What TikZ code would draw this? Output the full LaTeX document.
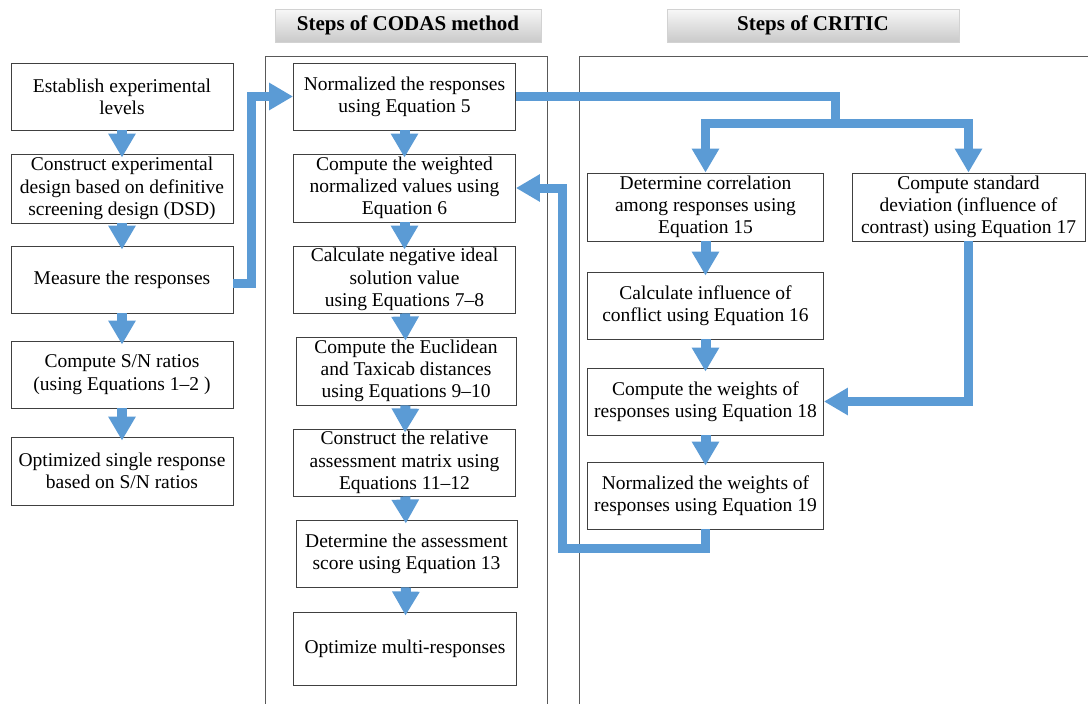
\documentclass[tikz,border=0pt]{standalone}
\usepackage{fontspec}
\setmainfont{Liberation Serif}
\usetikzlibrary{arrows.meta}
\definecolor{flowblue}{RGB}{91,155,213}
\begin{document}
\begin{tikzpicture}[x=1pt,y=-1pt,
  box/.style={draw=black!75,line width=0.9pt,align=center,inner sep=0pt,
    font=\fontsize{19.5}{22.3}\selectfont},
  flow/.style={draw=flowblue,line width=9pt,line join=miter,
    -{Triangle[width=26pt,length=24pt]}},
  down/.style={flow,line width=10pt,shorten >=-4pt},
  frame/.style={draw=black!65,line width=0.9pt},
  titlebox/.style={draw=gray!35,line width=0.6pt,top color=gray!6,bottom color=gray!42,
    inner sep=0pt,font=\fontsize{21}{24}\selectfont\bfseries}]
\clip (0,0) rectangle (1088,704);
\fill[white] (0,0) rectangle (1088,704);
% frames
\draw[frame] (265,56) rectangle (547,712);
\draw[frame] (579,56) rectangle (1096,712);
% titles
\node[titlebox,minimum width=266pt,minimum height=33pt] (t1) at (408,25.5) {Steps of CODAS method};
\node[titlebox,minimum width=292pt,minimum height=33pt] (t2) at (813,25.5) {Steps of CRITIC};
% left column
\node[box,minimum width=222pt,minimum height=67pt] (b1) at (122,96.5) {Establish experimental\\levels};
\node[box,minimum width=222pt,minimum height=69pt] (b2) at (122,188.5) {Construct experimental\\design based on definitive\\screening design (DSD)};
\node[box,minimum width=222pt,minimum height=67pt] (b3) at (122,279.5) {Measure the responses};
\node[box,minimum width=222pt,minimum height=67pt] (b4) at (122,374.5) {Compute S/N ratios\\(using Equations 1–2 )};
\node[box,minimum width=222pt,minimum height=68pt] (b5) at (122,471) {Optimized single response\\based on S/N ratios};
% middle column
\node[box,minimum width=222pt,minimum height=67pt] (m1) at (404.5,96.5) {Normalized the responses\\using Equation 5};
\node[box,minimum width=222pt,minimum height=68pt] (m2) at (404.5,188) {Compute the weighted\\normalized values using\\Equation 6};
\node[box,minimum width=222pt,minimum height=67pt] (m3) at (404.5,279.5) {Calculate negative ideal\\solution value\\using Equations 7–8};
\node[box,minimum width=220pt,minimum height=68pt] (m4) at (406,371) {Compute the Euclidean\\and Taxicab distances\\using Equations 9–10};
\node[box,minimum width=222pt,minimum height=67pt] (m5) at (404.5,462.5) {Construct the relative\\assessment matrix using\\Equations 11–12};
\node[box,minimum width=221pt,minimum height=67pt] (m6) at (406.5,553.5) {Determine the assessment\\score using Equation 13};
\node[box,minimum width=223pt,minimum height=73pt] (m7) at (405,648.5) {Optimize multi-responses};
% right column
\node[box,minimum width=236pt,minimum height=68pt] (r1) at (705.5,207) {Determine correlation\\among responses using\\Equation 15};
\node[box,minimum width=233pt,minimum height=68pt] (r2) at (968.5,207) {Compute standard\\deviation (influence of\\contrast) using Equation 17};
\node[box,minimum width=236pt,minimum height=67pt] (r3) at (705.5,305.5) {Calculate influence of\\conflict using Equation 16};
\node[box,minimum width=236pt,minimum height=67pt] (r4) at (705.5,401.5) {Compute the weights of\\responses using Equation 18};
\node[box,minimum width=236pt,minimum height=67pt] (r5) at (705.5,495.5) {Normalized the weights of\\responses using Equation 19};
% helper coordinates
\coordinate (split) at (835,123);
\coordinate (loop) at (562,548);
% connectors
\draw[down] (b1) -- (b2);
\draw[down] (b2) -- (b3);
\draw[down] (b3) -- (b4);
\draw[down] (b4) -- (b5);
\draw[flow] (b3.east) ++(0,4) -- ++(18,0) |- (m1.west);
\draw[down] (m1) -- (m2);
\draw[down] (m2) -- (m3);
\draw[down] (m3) -- (m4);
\draw[down] (m4) -- (m5);
\draw[down] (m5) -- (m6);
\draw[down] (m6) -- (m7);
\draw[flow] (m1.east) -| (split) -| (r1.north);
\draw[flow] (split) -| (r2.north);
\draw[down] (r1) -- (r3);
\draw[down] (r3) -- (r4);
\draw[down] (r4) -- (r5);
\draw[flow] (r2.south) |- (r4.east);
\draw[flow] (r5.south) |- (loop) |- (m2.east);
\end{tikzpicture}
\end{document}
